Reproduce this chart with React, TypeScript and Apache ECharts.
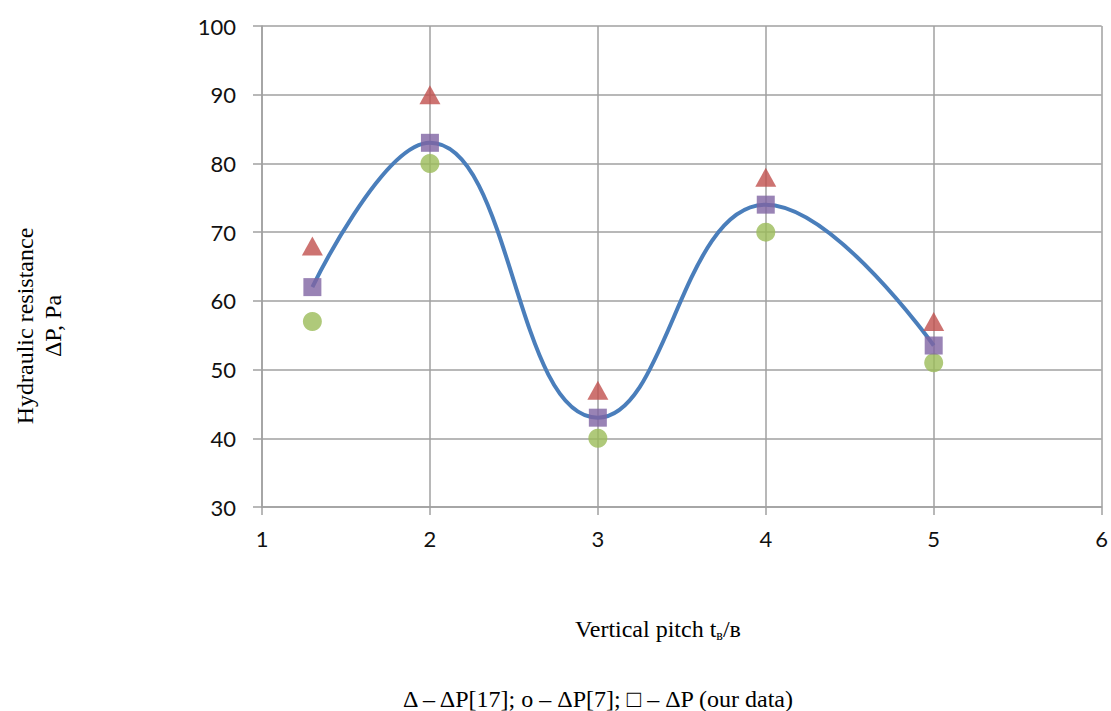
import React, { useEffect, useRef } from "react";
import * as echarts from "echarts";

const xValues = [1.3, 2, 3, 4, 5];
const ref17 = [68, 90, 47, 78, 57];
const ref7 = [57, 80, 40, 70, 51];
const ourData = [62, 83, 43, 74, 53.5];

const pairs = (ys: number[]) => xValues.map((x, i) => [x, ys[i]]);

export default function App() {
  const ref = useRef<HTMLDivElement>(null);
  useEffect(() => {
    const chart = echarts.init(ref.current!, null, { renderer: "svg" });
    const serif = "'Liberation Serif', 'Times New Roman', serif";
    const sans = "Lato, 'Liberation Sans', Arial, sans-serif";
    chart.setOption({
      animation: false,
      backgroundColor: "#fff",
      grid: { left: 262, right: 7, top: 26, bottom: 204 },
      xAxis: {
        type: "value",
        min: 1,
        max: 6,
        interval: 1,
        axisLine: { show: true, lineStyle: { color: "#a0a0a0", width: 1.5 } },
        axisTick: { show: true, length: 8, lineStyle: { color: "#a0a0a0", width: 1.5 } },
        splitLine: { show: true, lineStyle: { color: "#a0a0a0", width: 1.5 } },
        axisLabel: { color: "#111", fontSize: 22, fontFamily: sans, margin: 20 },
      },
      yAxis: {
        type: "value",
        min: 30,
        max: 100,
        interval: 10,
        axisLine: { show: true, lineStyle: { color: "#a0a0a0", width: 1.5 } },
        axisTick: { show: true, length: 9, lineStyle: { color: "#a0a0a0", width: 1.5 } },
        splitLine: { show: true, lineStyle: { color: "#a0a0a0", width: 1.5 } },
        axisLabel: { color: "#111", fontSize: 22, fontFamily: sans, margin: 26 },
      },
      series: [
        {
          type: "line",
          name: "our data line",
          data: pairs(ourData),
          smooth: 0.45,
          symbol: "none",
          lineStyle: { color: "#4A7EBB", width: 4 },
          z: 2,
        },
        {
          type: "scatter",
          name: "ΔP[7]",
          data: pairs(ref7),
          symbol: "circle",
          symbolSize: 19,
          itemStyle: { color: "#9BBB59" },
          z: 3,
        },
        {
          type: "scatter",
          name: "ΔP[17]",
          data: pairs(ref17),
          symbol: "triangle",
          symbolSize: [21, 19],
          itemStyle: { color: "#C0504D" },
          z: 3,
        },
        {
          type: "scatter",
          name: "ΔP",
          data: pairs(ourData),
          symbol: "rect",
          symbolSize: 18,
          itemStyle: { color: "#8064A2" },
          z: 4,
        },
      ],
      graphic: [
        {
          type: "text",
          x: 25,
          y: 326,
          rotation: Math.PI / 2,
          style: {
            text: "Hydraulic resistance",
            font: `24px ${serif}`,
            fill: "#000",
            align: "center",
            verticalAlign: "middle",
          },
        },
        {
          type: "text",
          x: 53,
          y: 326,
          rotation: Math.PI / 2,
          style: {
            text: "ΔP, Pa",
            font: `24px ${serif}`,
            fill: "#000",
            align: "center",
            verticalAlign: "middle",
          },
        },
        {
          type: "text",
          x: 658,
          y: 629,
          style: {
            text: "{a|Vertical pitch t}{s|в}{a|/в}",
            align: "center",
            verticalAlign: "middle",
            rich: {
              a: { font: `24px ${serif}`, color: "#000" },
              s: { font: `14px ${serif}`, color: "#000", padding: [12, 0, 0, 0] },
            },
          },
        },
        {
          type: "text",
          x: 598,
          y: 699,
          style: {
            text: "Δ – ΔP[17]; o – ΔP[7]; □ – ΔP (our data)",
            font: `24px ${serif}`,
            fill: "#000",
            align: "center",
            verticalAlign: "middle",
          },
        },
      ],
    });
    return () => chart.dispose();
  }, []);
  return (
    <div
      ref={ref}
      style={{ position: "absolute", left: 0, top: 0, width: 1111, height: 711 }}
    />
  );
}
